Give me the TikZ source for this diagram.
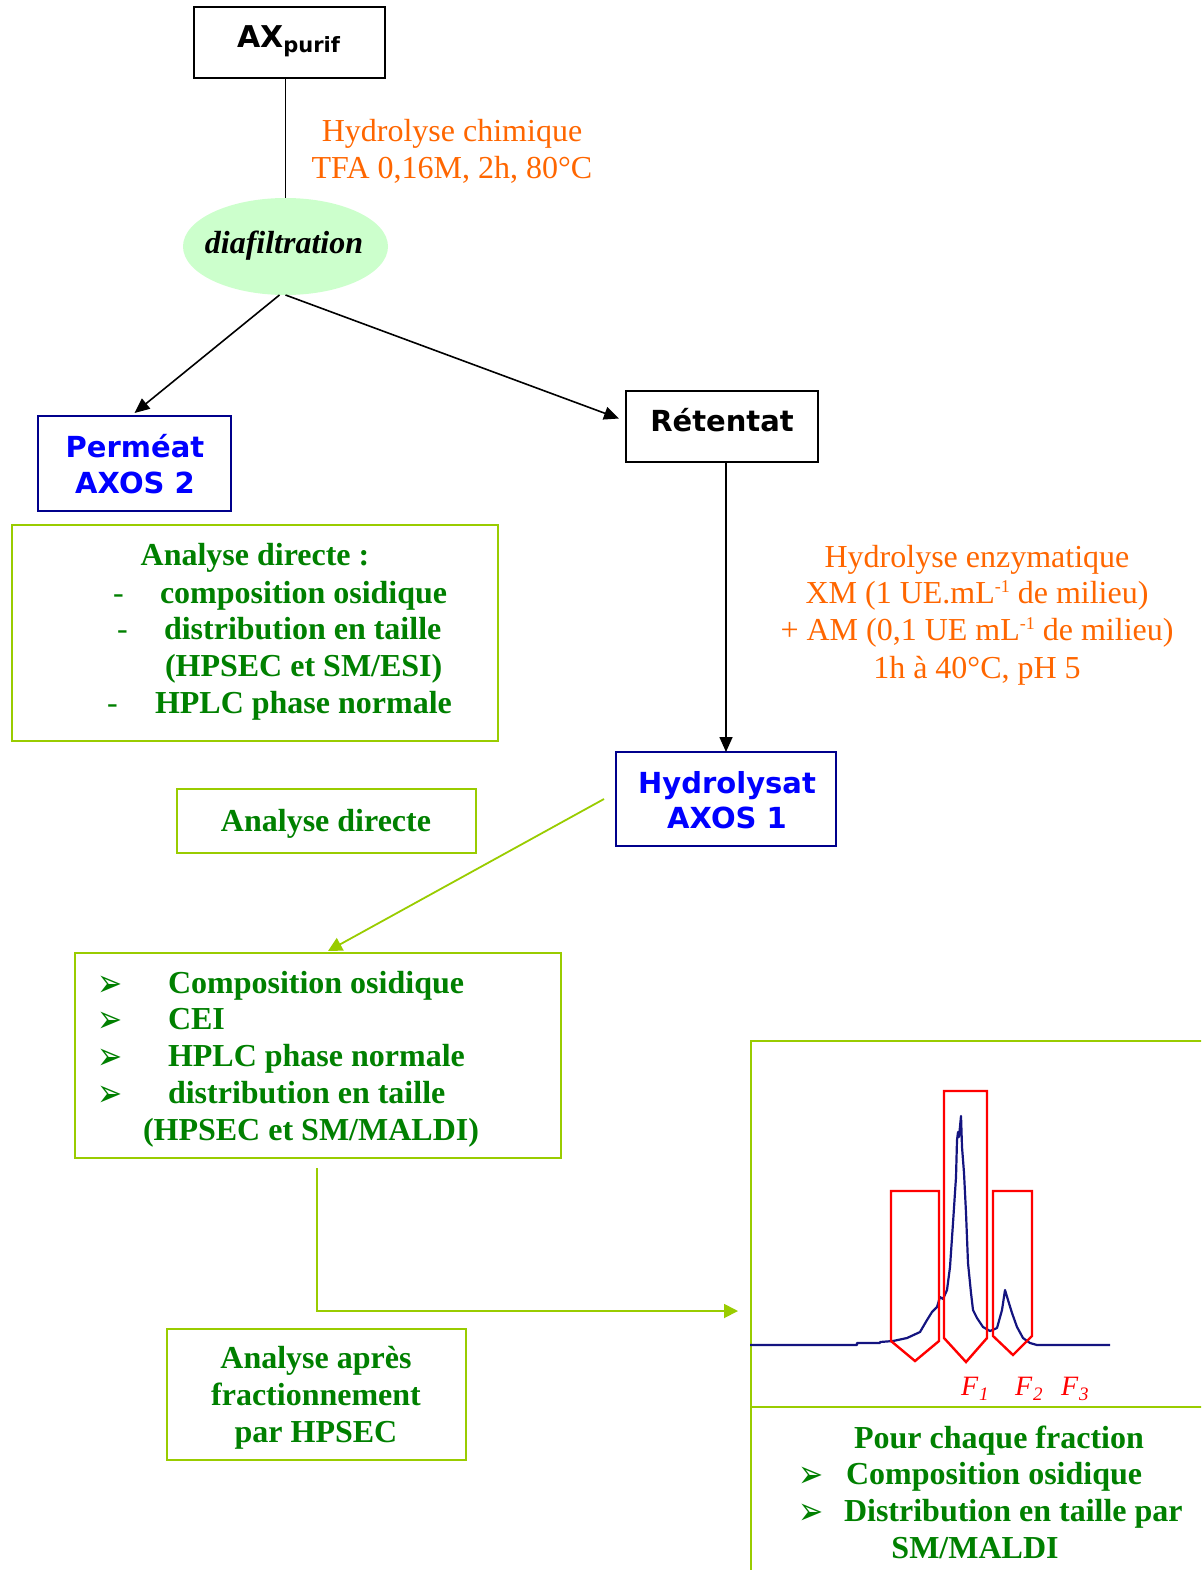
\documentclass[tikz,border=0pt]{standalone}
\usepackage{fontspec}
\setmainfont{Liberation Serif}
\newfontfamily\vsans{DejaVu Sans}
\newfontfamily\dingfont{DejaVu Sans}
\usetikzlibrary{arrows.meta,calc,shapes.geometric}
\definecolor{orangetxt}{RGB}{255,102,0}
\definecolor{greentxt}{RGB}{0,128,0}
\definecolor{limeline}{RGB}{153,204,0}
\definecolor{bluetxt}{RGB}{0,0,255}
\definecolor{navyline}{RGB}{0,0,140}
\definecolor{mint}{RGB}{204,255,204}
\definecolor{curvecol}{RGB}{20,20,128}
\definecolor{redcut}{RGB}{255,0,0}
\newcommand{\arrowbullet}{\scalebox{1.25}[1.6]{➢}}

\begin{document}
\begin{tikzpicture}[x=1pt,y=-1pt,
  every node/.style={inner sep=0pt, outer sep=0pt},
  blackbox/.style={draw=black, line width=1.6pt},
  bluebox/.style={draw=navyline, line width=2.2pt},
  greenbox/.style={draw=limeline, line width=1.8pt},
  sanslbl/.style={font=\vsans\bfseries\fontsize{29}{35}\selectfont, anchor=base},
  greenlbl/.style={font=\bfseries\fontsize{32}{37}\selectfont, text=greentxt, anchor=base},
  greenlft/.style={greenlbl, anchor=base west},
  dashmark/.style={font=\fontsize{32}{37}\selectfont, text=greentxt, anchor=base west},
  bulletmark/.style={font=\dingfont\fontsize{24}{26}\selectfont, text=greentxt, anchor=base west},
  orangelbl/.style={font=\fontsize{32}{37}\selectfont, text=orangetxt, anchor=base},
  fraclbl/.style={font=\itshape\fontsize{28}{30}\selectfont, text=redcut, anchor=base west},
  link/.style={line width=1.6pt, draw=black},
  linkarrow/.style={link, -{Triangle[length=15pt,width=13pt]}},
  greenarrow/.style={line width=1.8pt, draw=limeline, -{Triangle[length=14pt,width=14pt]}},
  cutbox/.style={draw=redcut, line width=2.4pt, line join=miter},
]
\useasboundingbox (0,0) rectangle (1201,1570);
\clip (0,0) rectangle (1201,1570);

% ---------- boxes ----------
\node[blackbox, minimum width=191, minimum height=71] (ax) at (289.5,42.5) {};
\node[font=\vsans\bfseries\fontsize{30}{36}\selectfont, anchor=base west] (axlbl) at (237,48)
  {AX\raisebox{-5pt}{\fontsize{21}{24}\selectfont purif}};

\node[ellipse, fill=mint, minimum width=205, minimum height=97] (diaf) at (285.5,246.5) {};
\node[font=\bfseries\itshape\fontsize{32}{37}\selectfont, anchor=base] (diaflbl) at (284,254) {diafiltration};

\node[orangelbl] (chim1) at (452,142) {Hydrolyse chimique};
\node[orangelbl] (chim2) at (452,179) {TFA 0,16M, 2h, 80°C};

\node[bluebox, minimum width=193, minimum height=95] (perm) at (134.5,463.5) {};
\node[sanslbl, text=bluetxt] (perm1) at (135,457) {Perméat};
\node[sanslbl, text=bluetxt] (perm2) at (135,493) {AXOS 2};

\node[blackbox, minimum width=192, minimum height=71] (ret) at (722,426.5) {};
\node[sanslbl] (retlbl) at (722,431) {Rétentat};

% direct analysis of the permeate
\node[greenbox, minimum width=486, minimum height=216, anchor=north west] (anal1) at (12,525) {};
\node[greenlbl] (a1t) at (255,565) {Analyse directe :};
\node[dashmark] (a1d1) at (113,603) {-};
\node[greenlft] (a1l1) at (160,603) {composition osidique};
\node[dashmark] (a1d2) at (117,639) {-};
\node[greenlft] (a1l2) at (164,639) {distribution en taille};
\node[greenlft] (a1l3) at (165,676) {(HPSEC et SM/ESI)};
\node[dashmark] (a1d3) at (107,713) {-};
\node[greenlft] (a1l4) at (155,713) {HPLC phase normale};

% enzymatic hydrolysis conditions
\node[orangelbl] (enz1) at (977,567) {Hydrolyse enzymatique};
\node[orangelbl] (enz2) at (977,603) {XM (1 UE.mL\raisebox{11pt}{\fontsize{18}{18}\selectfont -1} de milieu)};
\node[orangelbl] (enz3) at (977,640) {+ AM (0,1 UE mL\raisebox{11pt}{\fontsize{18}{18}\selectfont -1} de milieu)};
\node[orangelbl] (enz4) at (977,678) {1h à 40°C, pH 5};

\node[bluebox, minimum width=220, minimum height=94] (hyd) at (726,799) {};
\node[sanslbl, text=bluetxt] (hyd1) at (727,793) {Hydrolysat};
\node[sanslbl, text=bluetxt] (hyd2) at (727,828) {AXOS 1};

\node[greenbox, minimum width=299, minimum height=64] (direct) at (326.5,821) {};
\node[greenlbl] (directlbl) at (326,831) {Analyse directe};

% direct analysis of the hydrolysate
\node[greenbox, minimum width=486, minimum height=205, anchor=north west] (anal2) at (75,953) {};
\node[bulletmark] (b1) at (97,996) {\arrowbullet};
\node[greenlft] (a2l1) at (168,993) {Composition osidique};
\node[bulletmark] (b2) at (97,1032) {\arrowbullet};
\node[greenlft] (a2l2) at (168,1029) {CEI};
\node[bulletmark] (b3) at (97,1069) {\arrowbullet};
\node[greenlft] (a2l3) at (168,1066) {HPLC phase normale};
\node[bulletmark] (b4) at (97,1106) {\arrowbullet};
\node[greenlft] (a2l4) at (168,1103) {distribution en taille};
\node[greenlft] (a2l5) at (143,1140) {(HPSEC et SM/MALDI)};

\node[greenbox, minimum width=299, minimum height=131] (apres) at (316.5,1394.5) {};
\node[greenlbl] (ap1) at (316,1368) {Analyse après};
\node[greenlbl] (ap2) at (316,1405) {fractionnement};
\node[greenlbl] (ap3) at (316,1442) {par HPSEC};

% fraction panel (runs off the page to the right and bottom)
\node[greenbox, minimum width=480, minimum height=570, anchor=north west] (frac) at (751,1041) {};
\coordinate (divl) at (751,1407);
\coordinate (divr) at (1215,1407);
\draw[draw=limeline, line width=1.8pt] (divl) -- (divr);

% chromatogram
\draw[draw=curvecol, line width=2.2pt, line join=round]
  (750,1345) -- (857,1345) -- (857,1343) -- (880,1343) -- (880,1342) -- (893,1341)
  -- (907,1338) -- (920,1332) -- (927,1320) -- (932,1312) -- (937,1307) -- (940,1297)
  -- (943,1299) -- (947,1290) -- (950,1267) -- (953,1223) -- (956,1177) -- (957,1140)
  -- (958,1132) -- (959,1137) -- (961,1116) -- (962,1147) -- (964,1173) -- (966,1213)
  -- (968,1263) -- (971,1293) -- (973,1310) -- (977,1318) -- (983,1327) -- (990,1331)
  -- (997,1328) -- (1002,1310) -- (1005,1290) -- (1008,1300) -- (1012,1313)
  -- (1017,1327) -- (1023,1338) -- (1030,1343) -- (1037,1345) -- (1110,1345);

% fraction cuts
\draw[cutbox] (891,1341) -- (891,1191) -- (939,1191) -- (939,1341) -- (915,1361) -- cycle;
\draw[cutbox] (944,1338) -- (944,1091) -- (987,1091) -- (987,1338) -- (966,1362) -- cycle;
\draw[cutbox] (993,1336) -- (993,1191) -- (1032,1191) -- (1032,1336) -- (1013,1355) -- cycle;

\node[fraclbl] (f1) at (961,1395) {F\kern1pt\raisebox{-5pt}{\fontsize{19}{20}\selectfont 1}};
\node[fraclbl] (f2) at (1015,1395) {F\kern1pt\raisebox{-5pt}{\fontsize{19}{20}\selectfont 2}};
\node[fraclbl] (f3) at (1061,1395) {F\kern1pt\raisebox{-5pt}{\fontsize{19}{20}\selectfont 3}};

\node[greenlbl] (fr1) at (999,1448) {Pour chaque fraction};
\node[bulletmark] (b5) at (798,1487) {\arrowbullet};
\node[greenlft] (fr2) at (846,1484) {Composition osidique};
\node[bulletmark] (b6) at (798,1524) {\arrowbullet};
\node[greenlft] (fr3) at (844,1521) {Distribution en taille par};
\node[greenlbl] (fr4) at (975,1558) {SM/MALDI};

% ---------- connectors ----------
\draw[link] (ax.south -| diaf.north) -- (diaf.north);
\draw[linkarrow] ([xshift=-6pt]diaf.south) -- ([yshift=3pt]perm.north);
\draw[linkarrow] ([xshift=0pt]diaf.south) -- ([xshift=-7pt,yshift=8pt]ret.west);
\draw[linkarrow] (ret.south -| hyd.north) -- (hyd.north);
\draw[greenarrow] ([xshift=-12pt]hyd.west) -- ([xshift=10pt,yshift=2pt]anal2.north);
\coordinate (tipF) at (738,1311);
\draw[greenarrow] ([yshift=-10pt,xshift=-1pt]anal2.south) |- (tipF);
\end{tikzpicture}
\end{document}
